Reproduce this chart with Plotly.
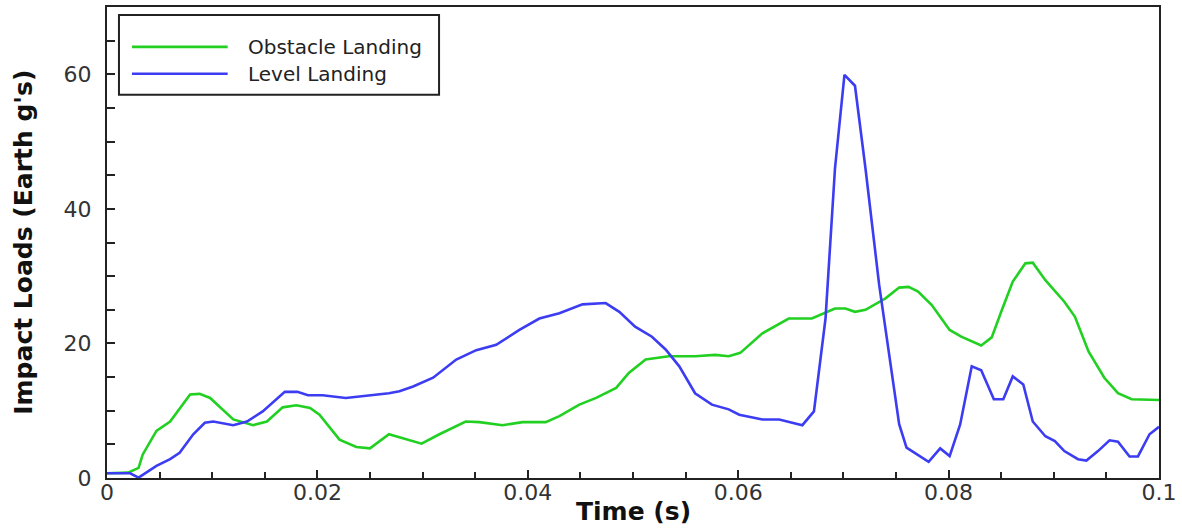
import plotly.graph_objects as go

# ---- data ----
obstacle_t = [0, 0.002, 0.003, 0.0034, 0.0047, 0.006, 0.0079, 0.0088, 0.0098, 0.012,
              0.0139, 0.0152, 0.0167, 0.018, 0.0193, 0.0202, 0.0221, 0.0237, 0.025, 0.0268,
              0.0299, 0.0316, 0.0341, 0.0354, 0.0376, 0.0395, 0.0417, 0.043, 0.0449, 0.0465,
              0.0484, 0.0496, 0.0512, 0.0534, 0.0559, 0.0578, 0.0591, 0.0602, 0.0623, 0.0648,
              0.067, 0.0692, 0.0702, 0.0711, 0.0721, 0.074, 0.0753, 0.0762, 0.0771, 0.0784,
              0.0801, 0.0812, 0.0831, 0.0841, 0.085, 0.0861, 0.0873, 0.088, 0.0892, 0.091,
              0.092, 0.0933, 0.0948, 0.0961, 0.0974, 0.1]
obstacle_g = [0.7, 0.8, 1.5, 3.5, 7.0, 8.4, 12.4, 12.5, 11.9, 8.7,
              7.85, 8.4, 10.5, 10.8, 10.4, 9.4, 5.7, 4.6, 4.4, 6.5,
              5.1, 6.5, 8.4, 8.3, 7.85, 8.3, 8.3, 9.2, 10.9, 11.9,
              13.4, 15.6, 17.6, 18.1, 18.1, 18.3, 18.1, 18.6, 21.5, 23.7,
              23.7, 25.2, 25.2, 24.7, 25.0, 26.7, 28.3, 28.4, 27.7, 25.7,
              22.0, 21.0, 19.7, 20.9, 24.7, 29.2, 31.9, 32.0, 29.4, 26.2,
              24.0, 18.8, 14.9, 12.6, 11.7, 11.6]

level_t = [0, 0.0022, 0.003, 0.0047, 0.006, 0.0069, 0.0082, 0.0093, 0.0101, 0.012,
           0.0133, 0.0148, 0.0169, 0.0181, 0.0191, 0.0205, 0.0227, 0.025, 0.0268, 0.0278,
           0.0291, 0.031, 0.0332, 0.0351, 0.037, 0.0392, 0.0411, 0.043, 0.0452, 0.0474,
           0.0487, 0.0502, 0.0518, 0.0531, 0.0544, 0.0559, 0.0575, 0.0591, 0.0601, 0.0623,
           0.0639, 0.0661, 0.0672, 0.0683, 0.0692, 0.0701, 0.0711, 0.0721, 0.0734, 0.0753,
           0.076, 0.0781, 0.0792, 0.0801, 0.0811, 0.0822, 0.0831, 0.0843, 0.0852, 0.0861,
           0.0871, 0.088, 0.0892, 0.0901, 0.091, 0.0923, 0.0931, 0.0942, 0.0953, 0.0961,
           0.0972, 0.098, 0.0991, 0.1]
level_g = [0.7, 0.7, 0.05, 1.8, 2.8, 3.75, 6.5, 8.2, 8.4, 7.85,
           8.4, 9.9, 12.8, 12.8, 12.3, 12.3, 11.9, 12.3, 12.6, 12.9,
           13.6, 14.9, 17.6, 19.0, 19.8, 22.0, 23.7, 24.5, 25.8, 26.0,
           24.7, 22.5, 21.0, 19.1, 16.6, 12.6, 10.9, 10.2, 9.4, 8.7,
           8.7, 7.85, 9.9, 23.7, 46.0, 59.9, 58.3, 46.0, 28.7, 8.0,
           4.5, 2.4, 4.4, 3.25, 7.95, 16.6, 16.0, 11.7, 11.7, 15.1,
           13.9, 8.4, 6.2, 5.5, 4.0, 2.8, 2.6, 4.0, 5.6, 5.4,
           3.2, 3.2, 6.5, 7.6]

x_tickvals = [0, 0.02, 0.04, 0.06, 0.08, 0.1]
x_ticktext = ["0", "0.02", "0.04", "0.06", "0.08", "0.1"]
y_tickvals = [0, 20, 40, 60]
y_ticktext = ["0", "20", "40", "60"]
series_names = ["Obstacle Landing", "Level Landing"]
series_colors = ["#22d022", "#3c3cf2"]

# ---- layout geometry (pixels) ----
W, H = 1182, 531
L, R, T, B = 107, 20, 5, 53
pw, ph = W - L - R, H - T - B


def px(x):
    return (x - L) / pw


def py(y):
    return (H - B - y) / ph


fig = go.Figure()
fig.add_trace(go.Scatter(x=obstacle_t, y=obstacle_g, mode="lines", name=series_names[0],
                         line=dict(color=series_colors[0], width=2.6)))
fig.add_trace(go.Scatter(x=level_t, y=level_g, mode="lines", name=series_names[1],
                         line=dict(color=series_colors[1], width=2.6)))

tickfont = dict(family="DejaVu Sans", size=22, color="#333333")
fig.update_layout(
    width=W, height=H,
    margin=dict(l=L, r=R, t=T, b=B, pad=0),
    plot_bgcolor="white", paper_bgcolor="white",
    showlegend=False,
    xaxis=dict(range=[0, 0.1], tickmode="array", tickvals=x_tickvals, ticktext=x_ticktext,
               ticks="inside", ticklen=8, tickwidth=2, tickcolor="#222",
               minor=dict(dtick=0.005, tick0=0, ticks="inside", ticklen=6, tickwidth=2, tickcolor="#222"),
               showgrid=False, zeroline=False, showline=True, linecolor="#222", linewidth=2,
               mirror=True, tickfont=tickfont, ticklabelstandoff=-6),
    yaxis=dict(range=[0, 70], tickmode="array", tickvals=y_tickvals, ticktext=y_ticktext,
               ticks="inside", ticklen=8, tickwidth=2, tickcolor="#222",
               minor=dict(dtick=5, tick0=0, ticks="inside", ticklen=8, tickwidth=2, tickcolor="#222"),
               showgrid=False, zeroline=False, showline=True, linecolor="#222", linewidth=2,
               mirror=True, tickfont=tickfont, ticklabelstandoff=9),
)

# axis titles
fig.add_annotation(text="Impact Loads (Earth g's)", xref="paper", yref="paper",
                   x=px(23), y=0.5, textangle=-90, showarrow=False,
                   xanchor="center", yanchor="middle",
                   font=dict(family="DejaVu Sans", size=25, color="#111", weight="bold"))
fig.add_annotation(text="Time (s)", xref="paper", yref="paper",
                   x=px(635), y=py(512), showarrow=False,
                   xanchor="center", yanchor="middle",
                   font=dict(family="DejaVu Sans", size=25, color="#111", weight="bold"))

# legend box
fig.add_shape(type="rect", xref="paper", yref="paper",
              x0=px(119), x1=px(440), y0=py(93), y1=py(13),
              line=dict(color="#222", width=2), fillcolor="white", layer="above")
leg_y = [45, 72]
for name, color, yy in zip(series_names, series_colors, leg_y):
    fig.add_shape(type="line", xref="paper", yref="paper",
                  x0=px(132), x1=px(228), y0=py(yy), y1=py(yy),
                  line=dict(color=color, width=2.6), layer="above")
    fig.add_annotation(text=name, xref="paper", yref="paper",
                       x=px(246), y=py(yy), showarrow=False,
                       xanchor="left", yanchor="middle",
                       font=dict(family="DejaVu Sans", size=20, color="#222"))

fig.write_html("out.html", config={"displayModeBar": False},
               post_script="document.body.style.margin='0';document.body.style.overflow='hidden';")
